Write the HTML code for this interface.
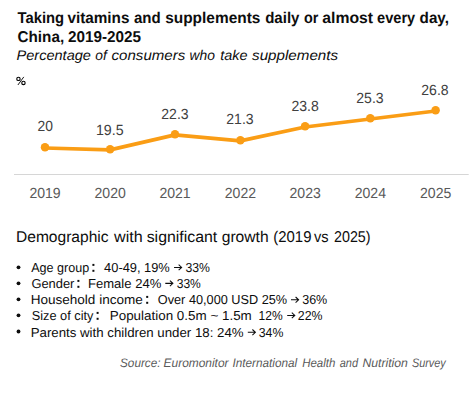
<!DOCTYPE html>
<html><head><meta charset="utf-8"><style>
html,body{margin:0;padding:0;background:#fff;overflow:hidden;}
svg{display:block;font-family:"Liberation Sans", sans-serif;text-rendering:geometricPrecision;}
</style></head><body>
<svg width="475" height="395" viewBox="0 0 475 395">
<rect width="475" height="395" fill="#fff"/>
<rect x="14" y="174" width="454.7" height="1" fill="#d6d6d6"/>
<polyline points="45.0,148.00 110.1,149.90 175.0,134.90 240.4,140.90 305.1,127.00 370.3,119.00 435.6,111.00" fill="none" stroke="#fa9d15" stroke-width="3.7" stroke-linejoin="round"/>
<circle cx="435.6" cy="110.35" r="4.25" fill="#fa9d15"/>
<circle cx="370.3" cy="118.35" r="4.25" fill="#fa9d15"/>
<circle cx="305.1" cy="126.35" r="4.25" fill="#fa9d15"/>
<circle cx="240.4" cy="140.25" r="4.25" fill="#fa9d15"/>
<circle cx="175.0" cy="134.25" r="4.25" fill="#fa9d15"/>
<circle cx="110.1" cy="149.25" r="4.25" fill="#fa9d15"/>
<circle cx="45.0" cy="147.35" r="4.25" fill="#fa9d15"/>
<text x="17.50" y="22.90" font-size="15.6" font-weight="bold" font-style="normal" fill="#0d0d0d" textLength="46.60" lengthAdjust="spacingAndGlyphs" xml:space="preserve">Taking</text>
<text x="67.40" y="22.90" font-size="15.6" font-weight="bold" font-style="normal" fill="#0d0d0d" textLength="62.08" lengthAdjust="spacingAndGlyphs" xml:space="preserve">vitamins</text>
<text x="134.00" y="22.90" font-size="15.6" font-weight="bold" font-style="normal" fill="#0d0d0d" textLength="26.71" lengthAdjust="spacingAndGlyphs" xml:space="preserve">and</text>
<text x="165.20" y="22.90" font-size="15.6" font-weight="bold" font-style="normal" fill="#0d0d0d" textLength="95.18" lengthAdjust="spacingAndGlyphs" xml:space="preserve">supplements</text>
<text x="265.20" y="22.90" font-size="15.6" font-weight="bold" font-style="normal" fill="#0d0d0d" textLength="34.28" lengthAdjust="spacingAndGlyphs" xml:space="preserve">daily</text>
<text x="303.90" y="22.90" font-size="15.6" font-weight="bold" font-style="normal" fill="#0d0d0d" textLength="14.36" lengthAdjust="spacingAndGlyphs" xml:space="preserve">or</text>
<text x="322.30" y="22.90" font-size="15.6" font-weight="bold" font-style="normal" fill="#0d0d0d" textLength="50.79" lengthAdjust="spacingAndGlyphs" xml:space="preserve">almost</text>
<text x="377.10" y="22.90" font-size="15.6" font-weight="bold" font-style="normal" fill="#0d0d0d" textLength="38.09" lengthAdjust="spacingAndGlyphs" xml:space="preserve">every</text>
<text x="419.60" y="22.90" font-size="15.6" font-weight="bold" font-style="normal" fill="#0d0d0d" textLength="29.32" lengthAdjust="spacingAndGlyphs" xml:space="preserve">day,</text>
<text x="17.50" y="41.90" font-size="15.6" font-weight="bold" font-style="normal" fill="#0d0d0d" textLength="46.63" lengthAdjust="spacingAndGlyphs" xml:space="preserve">China,</text>
<text x="68.10" y="41.90" font-size="15.6" font-weight="bold" font-style="normal" fill="#0d0d0d" textLength="72.98" lengthAdjust="spacingAndGlyphs" xml:space="preserve">2019-2025</text>
<text x="16.60" y="60.00" font-size="14" font-weight="normal" font-style="italic" fill="#0d0d0d" textLength="74.28" lengthAdjust="spacingAndGlyphs" xml:space="preserve">Percentage</text>
<text x="95.30" y="60.00" font-size="14" font-weight="normal" font-style="italic" fill="#0d0d0d" textLength="11.52" lengthAdjust="spacingAndGlyphs" xml:space="preserve">of</text>
<text x="111.60" y="60.00" font-size="14" font-weight="normal" font-style="italic" fill="#0d0d0d" textLength="73.60" lengthAdjust="spacingAndGlyphs" xml:space="preserve">consumers</text>
<text x="189.60" y="60.00" font-size="14" font-weight="normal" font-style="italic" fill="#0d0d0d" textLength="25.39" lengthAdjust="spacingAndGlyphs" xml:space="preserve">who</text>
<text x="220.20" y="60.00" font-size="14" font-weight="normal" font-style="italic" fill="#0d0d0d" textLength="27.28" lengthAdjust="spacingAndGlyphs" xml:space="preserve">take</text>
<text x="252.10" y="60.00" font-size="14" font-weight="normal" font-style="italic" fill="#0d0d0d" textLength="86.00" lengthAdjust="spacingAndGlyphs" xml:space="preserve">supplements</text>
<text x="37.50" y="130.90" font-size="14.8" font-weight="normal" font-style="normal" fill="#404040" textLength="15.41" lengthAdjust="spacingAndGlyphs" xml:space="preserve">20</text>
<text x="95.94" y="135.20" font-size="14.8" font-weight="normal" font-style="normal" fill="#404040" textLength="27.68" lengthAdjust="spacingAndGlyphs" xml:space="preserve">19.5</text>
<text x="161.30" y="119.20" font-size="14.8" font-weight="normal" font-style="normal" fill="#404040" textLength="27.32" lengthAdjust="spacingAndGlyphs" xml:space="preserve">22.3</text>
<text x="226.30" y="123.90" font-size="14.8" font-weight="normal" font-style="normal" fill="#404040" textLength="27.32" lengthAdjust="spacingAndGlyphs" xml:space="preserve">21.3</text>
<text x="291.50" y="111.10" font-size="14.8" font-weight="normal" font-style="normal" fill="#404040" textLength="27.32" lengthAdjust="spacingAndGlyphs" xml:space="preserve">23.8</text>
<text x="356.30" y="103.20" font-size="14.8" font-weight="normal" font-style="normal" fill="#404040" textLength="27.32" lengthAdjust="spacingAndGlyphs" xml:space="preserve">25.3</text>
<text x="421.30" y="95.20" font-size="14.8" font-weight="normal" font-style="normal" fill="#404040" textLength="27.32" lengthAdjust="spacingAndGlyphs" xml:space="preserve">26.8</text>
<text x="29.40" y="198.00" font-size="14.6" font-weight="normal" font-style="normal" fill="#595959" textLength="31.31" lengthAdjust="spacingAndGlyphs" xml:space="preserve">2019</text>
<text x="94.50" y="198.00" font-size="14.6" font-weight="normal" font-style="normal" fill="#595959" textLength="31.31" lengthAdjust="spacingAndGlyphs" xml:space="preserve">2020</text>
<text x="159.40" y="198.00" font-size="14.6" font-weight="normal" font-style="normal" fill="#595959" textLength="31.31" lengthAdjust="spacingAndGlyphs" xml:space="preserve">2021</text>
<text x="224.80" y="198.00" font-size="14.6" font-weight="normal" font-style="normal" fill="#595959" textLength="31.31" lengthAdjust="spacingAndGlyphs" xml:space="preserve">2022</text>
<text x="289.50" y="198.00" font-size="14.6" font-weight="normal" font-style="normal" fill="#595959" textLength="31.31" lengthAdjust="spacingAndGlyphs" xml:space="preserve">2023</text>
<text x="354.70" y="198.00" font-size="14.6" font-weight="normal" font-style="normal" fill="#595959" textLength="31.31" lengthAdjust="spacingAndGlyphs" xml:space="preserve">2024</text>
<text x="420.00" y="198.00" font-size="14.6" font-weight="normal" font-style="normal" fill="#595959" textLength="31.31" lengthAdjust="spacingAndGlyphs" xml:space="preserve">2025</text>
<text x="16.00" y="242.00" font-size="15.6" font-weight="normal" font-style="normal" fill="#0d0d0d" textLength="92.60" lengthAdjust="spacingAndGlyphs" xml:space="preserve">Demographic</text>
<text x="114.03" y="242.00" font-size="15.6" font-weight="normal" font-style="normal" fill="#0d0d0d" textLength="28.66" lengthAdjust="spacingAndGlyphs" xml:space="preserve">with</text>
<text x="146.70" y="242.00" font-size="15.6" font-weight="normal" font-style="normal" fill="#0d0d0d" textLength="70.57" lengthAdjust="spacingAndGlyphs" xml:space="preserve">significant</text>
<text x="221.70" y="242.00" font-size="15.6" font-weight="normal" font-style="normal" fill="#0d0d0d" textLength="46.92" lengthAdjust="spacingAndGlyphs" xml:space="preserve">growth</text>
<text x="273.30" y="242.00" font-size="15.6" font-weight="normal" font-style="normal" fill="#0d0d0d" textLength="38.14" lengthAdjust="spacingAndGlyphs" xml:space="preserve">(2019</text>
<text x="314.00" y="242.00" font-size="15.6" font-weight="normal" font-style="normal" fill="#0d0d0d" textLength="14.61" lengthAdjust="spacingAndGlyphs" xml:space="preserve">vs</text>
<text x="334.00" y="242.00" font-size="15.6" font-weight="normal" font-style="normal" fill="#0d0d0d" textLength="36.58" lengthAdjust="spacingAndGlyphs" xml:space="preserve">2025)</text>
<text x="31.20" y="272.30" font-size="13.0" font-weight="normal" font-style="normal" fill="#0d0d0d" textLength="58.02" lengthAdjust="spacingAndGlyphs" xml:space="preserve">Age group</text>
<text x="104.10" y="272.30" font-size="13.0" font-weight="normal" font-style="normal" fill="#0d0d0d" textLength="65.71" lengthAdjust="spacingAndGlyphs" xml:space="preserve">40-49, 19%</text>
<text x="185.40" y="272.30" font-size="13.0" font-weight="normal" font-style="normal" fill="#0d0d0d" textLength="24.49" lengthAdjust="spacingAndGlyphs" xml:space="preserve">33%</text>
<text x="31.40" y="288.30" font-size="13.0" font-weight="normal" font-style="normal" fill="#0d0d0d" textLength="43.03" lengthAdjust="spacingAndGlyphs" xml:space="preserve">Gender</text>
<text x="88.00" y="288.30" font-size="13.0" font-weight="normal" font-style="normal" fill="#0d0d0d" textLength="73.26" lengthAdjust="spacingAndGlyphs" xml:space="preserve">Female 24%</text>
<text x="176.70" y="288.30" font-size="13.0" font-weight="normal" font-style="normal" fill="#0d0d0d" textLength="24.09" lengthAdjust="spacingAndGlyphs" xml:space="preserve">33%</text>
<text x="30.66" y="304.30" font-size="13.0" font-weight="normal" font-style="normal" fill="#0d0d0d" textLength="112.18" lengthAdjust="spacingAndGlyphs" xml:space="preserve">Household income</text>
<text x="157.80" y="304.30" font-size="13.0" font-weight="normal" font-style="normal" fill="#0d0d0d" textLength="129.37" lengthAdjust="spacingAndGlyphs" xml:space="preserve">Over 40,000 USD 25%</text>
<text x="302.20" y="304.30" font-size="13.0" font-weight="normal" font-style="normal" fill="#0d0d0d" textLength="25.08" lengthAdjust="spacingAndGlyphs" xml:space="preserve">36%</text>
<text x="31.70" y="320.30" font-size="13.0" font-weight="normal" font-style="normal" fill="#0d0d0d" textLength="61.71" lengthAdjust="spacingAndGlyphs" xml:space="preserve">Size of city</text>
<text x="109.77" y="320.30" font-size="13.0" font-weight="normal" font-style="normal" fill="#0d0d0d" textLength="141.99" lengthAdjust="spacingAndGlyphs" xml:space="preserve">Population 0.5m ~ 1.5m</text>
<text x="258.50" y="320.30" font-size="13.0" font-weight="normal" font-style="normal" fill="#0d0d0d" textLength="24.09" lengthAdjust="spacingAndGlyphs" xml:space="preserve">12%</text>
<text x="297.80" y="320.30" font-size="13.0" font-weight="normal" font-style="normal" fill="#0d0d0d" textLength="24.68" lengthAdjust="spacingAndGlyphs" xml:space="preserve">22%</text>
<text x="30.68" y="336.50" font-size="13.0" font-weight="normal" font-style="normal" fill="#0d0d0d" textLength="212.87" lengthAdjust="spacingAndGlyphs" xml:space="preserve">Parents with children under 18: 24%</text>
<text x="258.80" y="336.50" font-size="13.0" font-weight="normal" font-style="normal" fill="#0d0d0d" textLength="24.58" lengthAdjust="spacingAndGlyphs" xml:space="preserve">34%</text>
<text x="120.05" y="367.20" font-size="12.3" font-weight="normal" font-style="italic" fill="#595959" textLength="40.45" lengthAdjust="spacingAndGlyphs" xml:space="preserve">Source:</text>
<text x="163.60" y="367.20" font-size="12.3" font-weight="normal" font-style="italic" fill="#595959" textLength="64.92" lengthAdjust="spacingAndGlyphs" xml:space="preserve">Euromonitor</text>
<text x="232.50" y="367.20" font-size="12.3" font-weight="normal" font-style="italic" fill="#595959" textLength="64.69" lengthAdjust="spacingAndGlyphs" xml:space="preserve">International</text>
<text x="302.20" y="367.20" font-size="12.3" font-weight="normal" font-style="italic" fill="#595959" textLength="33.15" lengthAdjust="spacingAndGlyphs" xml:space="preserve">Health</text>
<text x="339.70" y="367.20" font-size="12.3" font-weight="normal" font-style="italic" fill="#595959" textLength="18.31" lengthAdjust="spacingAndGlyphs" xml:space="preserve">and</text>
<text x="362.40" y="367.20" font-size="12.3" font-weight="normal" font-style="italic" fill="#595959" textLength="45.54" lengthAdjust="spacingAndGlyphs" xml:space="preserve">Nutrition</text>
<text x="411.90" y="367.20" font-size="12.3" font-weight="normal" font-style="italic" fill="#595959" textLength="33.94" lengthAdjust="spacingAndGlyphs" xml:space="preserve">Survey</text>
<g fill="none" stroke="#000" stroke-width="1.12"><ellipse cx="18.45" cy="78.9" rx="1.7" ry="1.65"/><ellipse cx="23.45" cy="82.95" rx="1.7" ry="1.65"/><path d="M23.8 76.9L17.9 85.0" stroke-width="0.9"/></g>
<circle cx="18.5" cy="267.30" r="1.9" fill="#0d0d0d"/>
<circle cx="18.5" cy="283.30" r="1.9" fill="#0d0d0d"/>
<circle cx="18.5" cy="299.30" r="1.9" fill="#0d0d0d"/>
<circle cx="18.5" cy="315.30" r="1.9" fill="#0d0d0d"/>
<circle cx="18.5" cy="331.50" r="1.9" fill="#0d0d0d"/>
<rect x="92.40" y="263.90" width="2.0" height="2.0" fill="#0d0d0d"/><rect x="92.40" y="269.80" width="2.0" height="2.0" fill="#0d0d0d"/>
<rect x="77.40" y="279.90" width="2.0" height="2.0" fill="#0d0d0d"/><rect x="77.40" y="285.80" width="2.0" height="2.0" fill="#0d0d0d"/>
<rect x="146.20" y="295.90" width="2.0" height="2.0" fill="#0d0d0d"/><rect x="146.20" y="301.80" width="2.0" height="2.0" fill="#0d0d0d"/>
<rect x="96.60" y="311.90" width="2.0" height="2.0" fill="#0d0d0d"/><rect x="96.60" y="317.80" width="2.0" height="2.0" fill="#0d0d0d"/>
<path d="M174.05 267.40H181.65M178.65 264.60L181.65 267.40L178.65 270.20" fill="none" stroke="#0d0d0d" stroke-width="1.05"/>
<path d="M165.30 283.35H172.90M169.90 280.55L172.90 283.35L169.90 286.15" fill="none" stroke="#0d0d0d" stroke-width="1.05"/>
<path d="M291.00 299.80H298.60M295.60 297.00L298.60 299.80L295.60 302.60" fill="none" stroke="#0d0d0d" stroke-width="1.05"/>
<path d="M287.20 315.40H294.80M291.80 312.60L294.80 315.40L291.80 318.20" fill="none" stroke="#0d0d0d" stroke-width="1.05"/>
<path d="M247.80 332.30H255.40M252.40 329.50L255.40 332.30L252.40 335.10" fill="none" stroke="#0d0d0d" stroke-width="1.05"/>
</svg>
</body></html>
